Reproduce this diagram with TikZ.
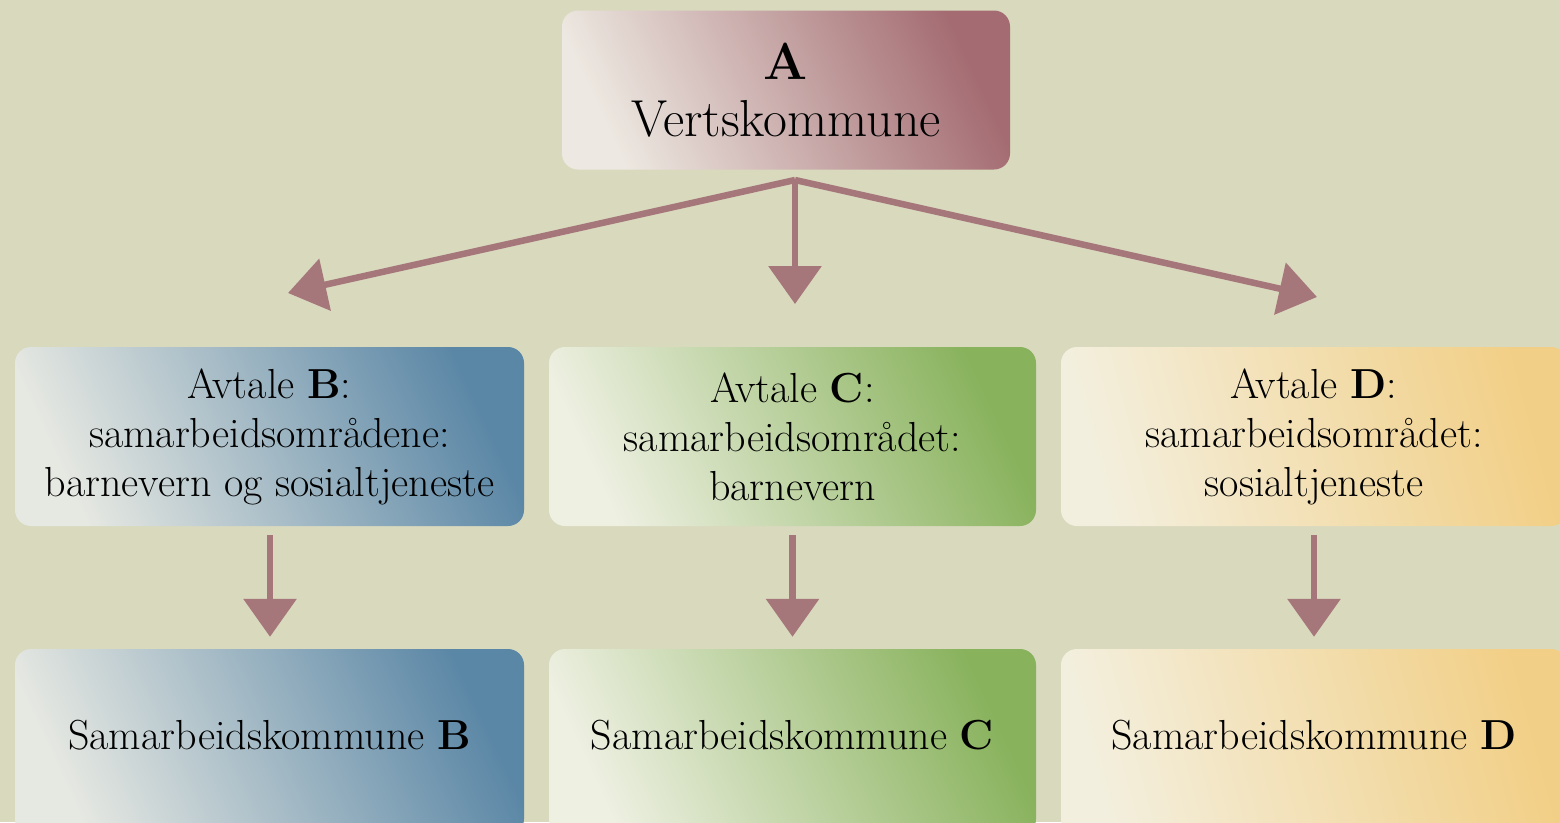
\documentclass[tikz,border=0pt]{standalone}
\usepackage{fontspec}
\usetikzlibrary{arrows.meta}
\definecolor{bg}{HTML}{D9D9BE}
\definecolor{arrowc}{HTML}{A6777A}
\definecolor{aDark}{HTML}{A46C72}
\definecolor{aLight}{HTML}{EDE8E1}
\definecolor{bDark}{HTML}{5B87A6}
\definecolor{bLight}{HTML}{E6E8E2}
\definecolor{cDark}{HTML}{88B25C}
\definecolor{cLight}{HTML}{EEF0E2}
\definecolor{dDark}{HTML}{F2CF86}
\definecolor{dLight}{HTML}{F3EFDE}
\begin{document}
\begin{tikzpicture}[x=1pt,y=-1pt,
  box/.style={rounded corners=16pt, align=center, inner sep=0pt, text=black,
    font=\fontsize{42}{49}\selectfont},
  boxA/.style={box, top color=aDark, bottom color=aLight, shading angle=-65,
    font=\fontsize{52}{57}\selectfont},
  boxB/.style={box, top color=bDark, bottom color=bLight, shading angle=-65},
  boxC/.style={box, top color=cDark, bottom color=cLight, shading angle=-65},
  boxD/.style={box, top color=dDark, bottom color=dLight, shading angle=-75},
  lbl/.style={font=\fontsize{42}{49}\selectfont, text=black, inner sep=0pt},
  arr/.style={draw=arrowc, line width=6.5pt, -{Triangle[width=52pt,length=38pt]}}]
\useasboundingbox (0,0) rectangle (1560,822);
\clip (0,0) rectangle (1560,822);
\fill[bg] (0,0) rectangle (1560,822);

% top box
\node[boxA, minimum width=448pt, minimum height=159pt] (A) at (786,90)
  {\textbf{A}\\Vertskommune};

% row 1
\node[boxB, minimum width=509pt, minimum height=179pt] (B1) at (269.5,436.5)
  {Avtale \textbf{B}:\\samarbeidsområdene:\\barnevern og sosialtjeneste};
\node[boxC, minimum width=487pt, minimum height=179pt] (C1) at (792.5,436.5)
  {Avtale \textbf{C}:\\samarbeidsområdet:\\barnevern};
\node[boxD, minimum width=506pt, minimum height=179pt] (D1) at (1314,436.5)
  {Avtale \textbf{D}:\\samarbeidsområdet:\\sosialtjeneste};

% row 2
\node[boxB, minimum width=509pt, minimum height=186pt,
  label={[lbl, yshift=7pt]center:Samarbeidskommune \textbf{B}}] (B2) at (269.5,742) {};
\node[boxC, minimum width=487pt, minimum height=186pt,
  label={[lbl, yshift=7pt]center:Samarbeidskommune \textbf{C}}] (C2) at (792.5,742) {};
\node[boxD, minimum width=506pt, minimum height=186pt,
  label={[lbl, yshift=7pt]center:Samarbeidskommune \textbf{D}}] (D2) at (1314,742) {};

% arrows from A
\coordinate (Aout) at (795,180);
\coordinate (tB) at (288,293);
\coordinate (tC) at (795,304);
\coordinate (tD) at (1317,297);
\draw[arr] (Aout) -- (tB);
\draw[arr] (Aout) -- (tC);
\draw[arr] (Aout) -- (tD);

% arrows down
\draw[arr] ([xshift=0.5pt,yshift=-9pt]B1.south) -- ([xshift=0.5pt,yshift=12pt]B2.north);
\draw[arr] ([yshift=-9pt]C1.south) -- ([yshift=12pt]C2.north);
\draw[arr] ([yshift=-9pt]D1.south) -- ([yshift=12pt]D2.north);
\end{tikzpicture}
\end{document}
